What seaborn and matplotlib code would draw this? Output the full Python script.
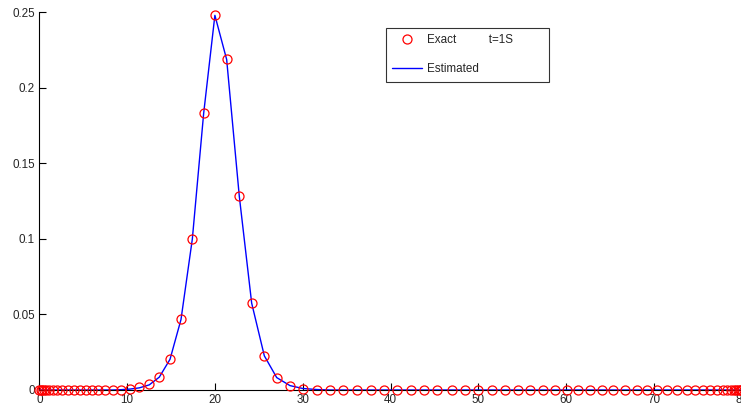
import matplotlib
matplotlib.use("Agg")
import matplotlib.pyplot as plt
import seaborn as sns
import pandas as pd

# grid nodes (clustered at both ends)
x_nodes = [0.0, 0.14, 0.31, 0.54, 0.82, 1.16, 1.56, 2.07, 2.64, 3.27,
           3.95, 4.64, 5.32, 6.0, 6.72, 7.43, 8.36, 9.31, 10.33, 11.39,
           12.53, 13.67, 14.89, 16.14, 17.43, 18.72, 20.0, 21.34, 22.78, 24.19,
           25.63, 27.04, 28.55, 30.0, 31.59, 33.11, 34.62, 36.15, 37.74, 39.26,
           40.77, 42.3, 43.81, 45.33, 46.97, 48.49, 50.0, 51.53, 53.04, 54.56,
           55.89, 57.33, 58.74, 60.07, 61.39, 62.72, 64.05, 65.38, 66.71, 68.04,
           69.18, 70.32, 71.46, 72.6, 73.74, 74.68, 75.63, 76.39, 77.15, 77.9,
           78.33, 78.73, 79.07, 79.35, 79.58, 79.75, 79.89, 80.0]

# exact solution at t=1S (nonzero only around the peak)
exact_peak = {9.31: 0.0003, 10.33: 0.0009, 11.39: 0.0018, 12.53: 0.0038,
              13.67: 0.0088, 14.89: 0.0205, 16.14: 0.0468, 17.43: 0.0999,
              18.72: 0.183, 20.0: 0.248, 21.34: 0.2187, 22.78: 0.128,
              24.19: 0.0573, 25.63: 0.0225, 27.04: 0.0081, 28.55: 0.0028,
              30.0: 0.0009, 31.59: 0.0002}

# estimated solution
estimated_peak = {9.31: 0.0002, 10.33: 0.0006, 11.39: 0.0014, 12.53: 0.0034,
                  13.67: 0.0085, 14.89: 0.0203, 16.14: 0.0466, 17.43: 0.0998,
                  18.72: 0.1829, 20.0: 0.2478, 21.34: 0.2186, 22.78: 0.1281,
                  24.19: 0.0574, 25.63: 0.0226, 27.04: 0.0082, 28.55: 0.0029,
                  30.0: 0.0010, 31.59: 0.0003}

exact_y = [exact_peak.get(v, 0.0) for v in x_nodes]
estimated_y = [estimated_peak.get(v, 0.0) for v in x_nodes]

df = pd.DataFrame({'x': x_nodes, 'exact': exact_y, 'estimated': estimated_y})

sns.set_style('white')
plt.rcParams['font.family'] = ['Liberation Sans', 'DejaVu Sans']
plt.rcParams['font.size'] = 8.4

fig = plt.figure(figsize=(7.41, 4.07), dpi=100)
ax = fig.add_axes([0.053, 0.0418, 0.948, 0.9287])

sns.lineplot(ax=ax, data=df, x='x', y='estimated', color='blue', lw=1.0,
             zorder=2, label='Estimated', clip_on=False)
sns.lineplot(ax=ax, data=df, x='x', y='exact', linestyle='', marker='o',
             markersize=6.5, markerfacecolor='none', markeredgecolor='red',
             markeredgewidth=0.9, color='red', zorder=3, clip_on=False,
             label='Exact          t=1S')

ax.set_xlim(0, 80)
ax.set_ylim(0, 0.25)
ax.set_xticks([0, 10, 20, 30, 40, 50, 60, 70, 80])
ax.set_yticks([0, 0.05, 0.1, 0.15, 0.2, 0.25])
ax.set_yticklabels(['0', '0.05', '0.1', '0.15', '0.2', '0.25'])
ax.set_xlabel('')
ax.set_ylabel('')
ax.tick_params(direction='in', length=5, width=0.8, color='black',
               labelsize=8.4, bottom=True, left=True)
ax.tick_params(axis='x', pad=3)
ax.tick_params(axis='y', pad=3)
sns.despine(ax=ax, top=True, right=True)
for s in ['left', 'bottom']:
    ax.spines[s].set_color('black')
    ax.spines[s].set_linewidth(0.8)

handles, labels = ax.get_legend_handles_labels()
leg = ax.legend(handles[::-1], labels[::-1], loc='upper left',
                bbox_to_anchor=(0.4936, 0.804, 0.2321, 0.1537), mode='expand',
                borderaxespad=0, frameon=True, fancybox=False, handlelength=2.5,
                handletextpad=0.45, labelspacing=1.45, borderpad=0.55,
                fontsize=8.4)
leg.get_frame().set_edgecolor('black')
leg.get_frame().set_linewidth(0.8)

fig.savefig('out.png', dpi=100)
